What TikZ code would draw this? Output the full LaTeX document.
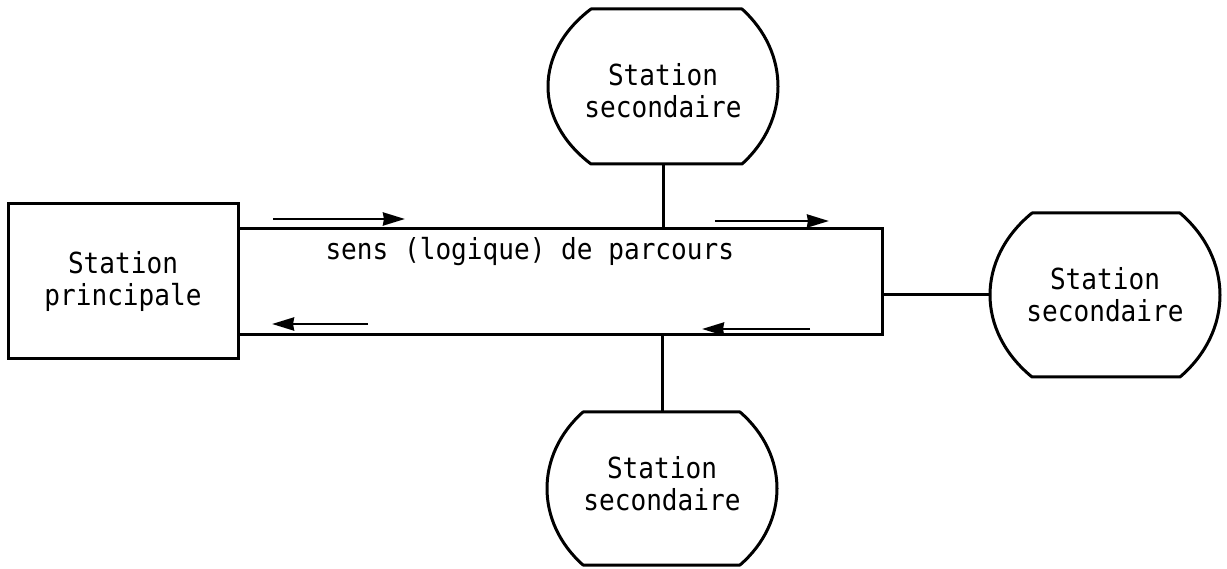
\documentclass[tikz,border=0pt]{standalone}
\usepackage{fontspec}
\newfontfamily\diagfont[FakeStretch=0.9]{DejaVu Sans Mono}
\usetikzlibrary{arrows.meta,calc}
\begin{document}
\begin{tikzpicture}[x=1pt,y=-1pt,
  every node/.style={font=\diagfont\fontsize{29}{32}\selectfont},
  ln/.style={line width=3pt},
  box/.style={draw,ln,inner sep=0,outer sep=0,align=center},
  barrel/.style={inner sep=0,outer sep=0,align=center,minimum width=230},
  flow/.style={line width=2.8pt,-{Stealth[length=22pt,width=13pt,inset=1pt]}}]
\useasboundingbox (0,0) rectangle (1227,569);
\node[box,minimum width=230,minimum height=155] (main) at (123,281.5) {Station\\principale};
\node[draw,ln,inner sep=0,outer sep=0,minimum width=644,minimum height=106,anchor=west] (ring) at (main.east) {};
\node[anchor=base west] (label) at (322,260) {sens (logique) de parcours};
\node[barrel,minimum height=155] (top) at (663,86.5) {\rule{0pt}{31pt}Station\\secondaire};
\node[barrel,minimum height=164] (right) at (1105,295) {Station\\secondaire};
\node[barrel,minimum height=153] (bot) at (662,488.5) {Station\\secondaire\rule[-10pt]{0pt}{10pt}};
\foreach \n/\a/\b in {top/43/36,right/42/40,bot/36/37}{
  \draw[ln,line join=round]
    ($(\n.north west)+(\a,0)$) -- ($(\n.north east)+(-\b,0)$)
    .. controls ($(\n.north east)!0.28!(\n.south east)+(\b/3,0)$)
           and ($(\n.north east)!0.72!(\n.south east)+(\b/3,0)$)
    .. ($(\n.south east)+(-\b,0)$) -- ($(\n.south west)+(\a,0)$)
    .. controls ($(\n.north west)!0.72!(\n.south west)+(-\a/3,0)$)
           and ($(\n.north west)!0.28!(\n.south west)+(-\a/3,0)$)
    .. cycle;
}
\draw[ln] (top.south) -- (top.south |- ring.north);
\draw[ln] (bot.north) -- (bot.north |- ring.south);
\draw[ln] (right.west) -- (right.west -| ring.east);
\coordinate (a1s) at (273,219); \coordinate (a1e) at (405,219);
\coordinate (a2s) at (368,324); \coordinate (a2e) at (272,324);
\coordinate (a3s) at (715,221); \coordinate (a3e) at (829,221);
\coordinate (a4s) at (810,329); \coordinate (a4e) at (702,329);
\draw[flow] (a1s) -- (a1e);
\draw[flow] (a2s) -- (a2e);
\draw[flow] (a3s) -- (a3e);
\draw[flow] (a4s) -- (a4e);
\end{tikzpicture}
\end{document}
